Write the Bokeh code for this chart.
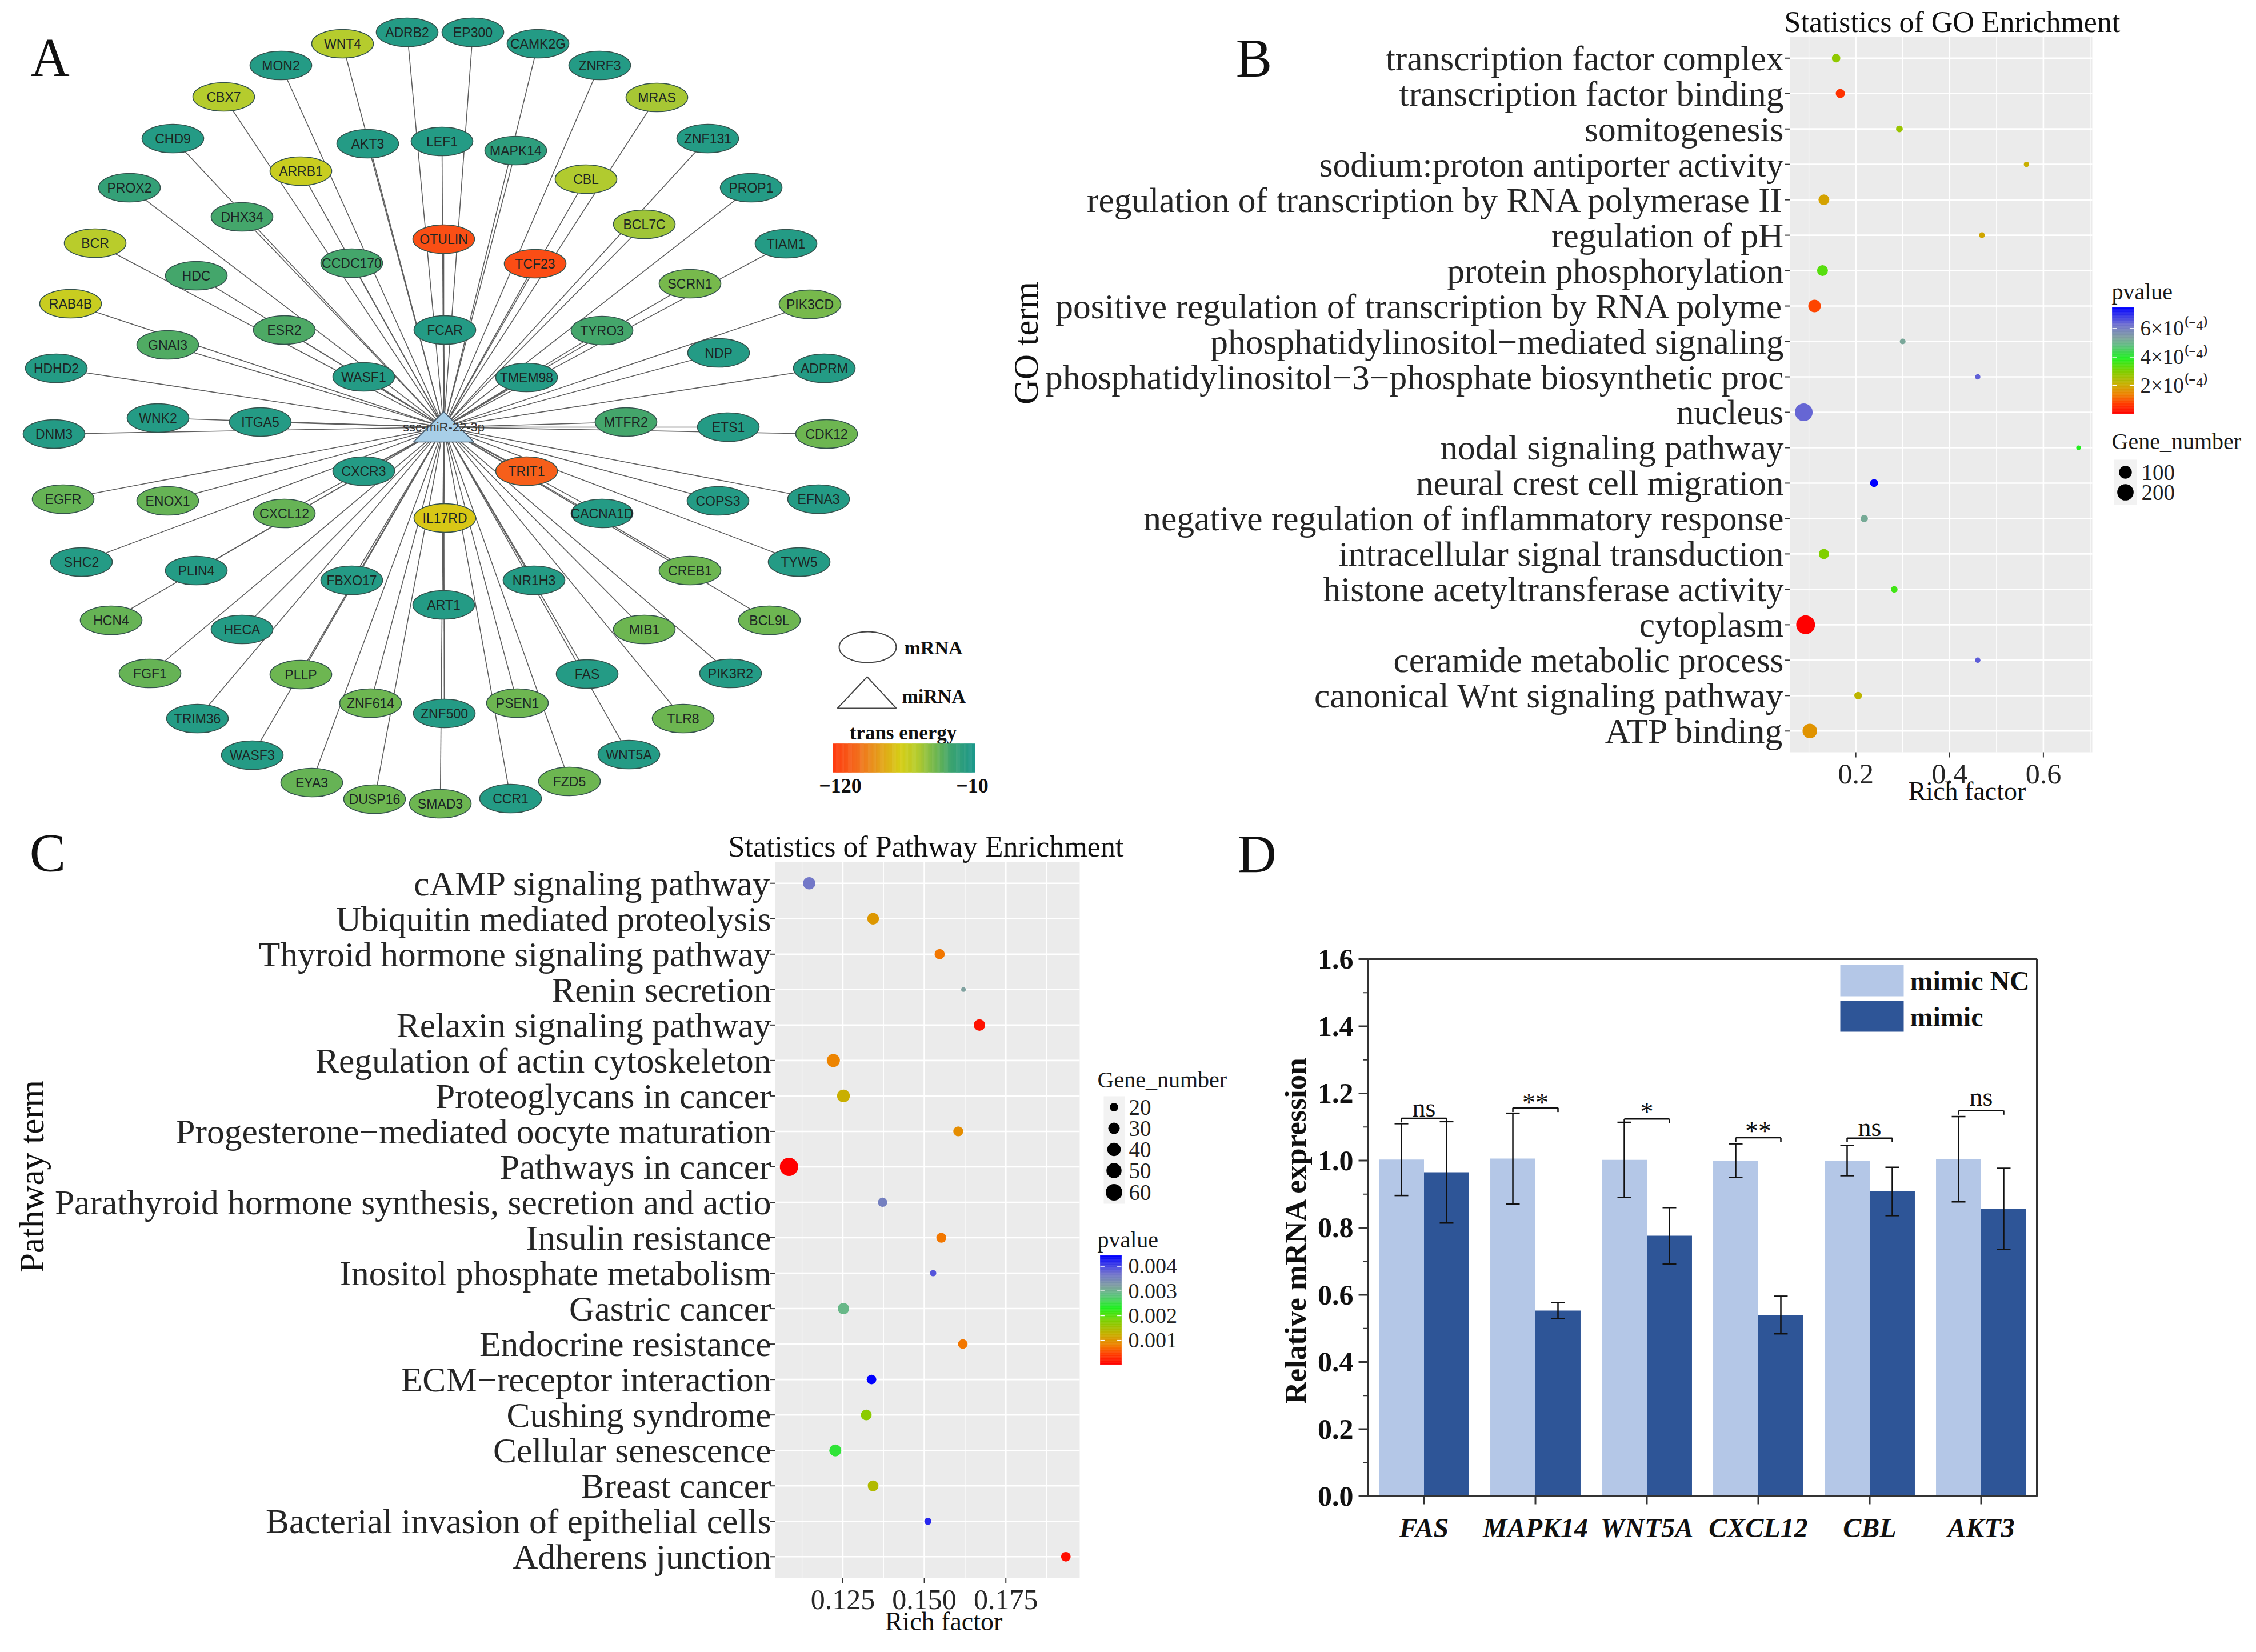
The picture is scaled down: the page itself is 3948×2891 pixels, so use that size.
import numpy as np
from bokeh.plotting import figure
from bokeh.models import ColumnDataSource, Range1d, LinearColorMapper, Whisker, TeeHead
from bokeh.layouts import row, column
from bokeh.transform import linear_cmap, dodge
from bokeh.core.properties import value
from bokeh.embed import file_html
from bokeh.resources import INLINE

SERIF = "Liberation Serif"
SANS = "Liberation Sans"

# ---------------------------------------------------------------- data: A (network)
gene_names = ["WNT4", "ADRB2", "EP300", "MON2", "CBX7", "CHD9", "AKT3", "LEF1", "ARRB1", "PROX2",
              "DHX34", "BCR", "OTULIN", "CCDC170", "HDC", "RAB4B", "FCAR", "ESR2", "GNAI3", "HDHD2",
              "WASF1", "CAMK2G", "ZNRF3", "MRAS", "ZNF131", "MAPK14", "CBL", "PROP1", "BCL7C", "TIAM1",
              "TCF23", "SCRN1", "PIK3CD", "TYRO3", "NDP", "TMEM98", "ADPRM", "WNK2", "ITGA5", "DNM3",
              "CXCR3", "EGFR", "ENOX1", "CXCL12", "IL17RD", "SHC2", "PLIN4", "FBXO17", "ART1", "HCN4",
              "HECA", "FGF1", "PLLP", "ZNF614", "ZNF500", "TRIM36", "WASF3", "EYA3", "DUSP16", "SMAD3",
              "MTFR2", "ETS1", "CDK12", "TRIT1", "COPS3", "EFNA3", "CACNA1D", "TYW5", "CREB1", "NR1H3",
              "BCL9L", "MIB1", "FAS", "PIK3R2", "PSEN1", "TLR8", "WNT5A", "FZD5", "CCR1"]
gene_x = [607, 720, 835, 499, 399, 310, 651, 781, 534, 234,
          431, 174, 784, 623, 351, 131, 786, 505, 301, 106,
          644, 949, 1057, 1157, 1246, 910, 1033, 1322, 1135, 1383,
          944, 1215, 1425, 1061, 1265, 929, 1450, 284, 463, 102,
          644, 118, 301, 505, 786, 150, 351, 623, 784, 202,
          431, 270, 534, 656, 785, 353, 449, 553, 663, 778,
          1103, 1282, 1454, 929, 1264, 1440, 1061, 1406, 1215, 942,
          1354, 1135, 1035, 1286, 913, 1203, 1108, 1004, 901]
gene_y = [84, 64, 64, 122, 177, 250, 259, 255, 307, 336,
          387, 433, 426, 468, 490, 539, 585, 585, 611, 652,
          667, 84, 122, 178, 250, 271, 321, 336, 400, 434,
          469, 504, 540, 586, 625, 668, 652, 739, 746, 767,
          832, 881, 884, 906, 914, 991, 1006, 1023, 1066, 1093,
          1109, 1186, 1188, 1238, 1256, 1265, 1329, 1377, 1406, 1414,
          746, 755, 767, 832, 884, 881, 906, 991, 1006, 1023,
          1093, 1109, 1187, 1186, 1238, 1265, 1328, 1375, 1405]
gene_energy = [-55, -15, -15, -15, -55, -15, -15, -15, -62, -24,
               -30, -56, -112, -30, -30, -62, -15, -32, -33, -15,
               -15, -15, -15, -52, -15, -20, -54, -15, -50, -15,
               -113, -42, -42, -30, -15, -15, -15, -15, -15, -15,
               -15, -38, -38, -38, -70, -15, -15, -15, -15, -38,
               -15, -38, -40, -40, -15, -15, -15, -38, -40, -40,
               -30, -15, -40, -106, -15, -15, -15, -15, -40, -15,
               -40, -40, -15, -15, -40, -40, -15, -40, -15]
mirna_names = ["ssc-miR-22-3p"]
mirna_x = [784]
mirna_y = [755]
energy_low, energy_high = -120, -10

# ---------------------------------------------------------------- data: B (GO)
go_terms = ["transcription factor complex", "transcription factor binding", "somitogenesis",
            "sodium:proton antiporter activity", "regulation of transcription by RNA polymerase II",
            "regulation of pH", "protein phosphorylation",
            "positive regulation of transcription by RNA polyme",
            "phosphatidylinositol\u2212mediated signaling",
            "phosphatidylinositol\u22123\u2212phosphate biosynthetic proc", "nucleus",
            "nodal signaling pathway", "neural crest cell migration",
            "negative regulation of inflammatory response", "intracellular signal transduction",
            "histone acetyltransferase activity", "cytoplasm", "ceramide metabolic process",
            "canonical Wnt signaling pathway", "ATP binding"]
go_rich = [0.158, 0.167, 0.293, 0.564, 0.132, 0.469, 0.129, 0.112, 0.300, 0.460,
           0.089, 0.675, 0.239, 0.218, 0.132, 0.282, 0.093, 0.460, 0.205, 0.102]
go_pvalue = [2.8e-4, 0.6e-4, 2.7e-4, 2.1e-4, 1.9e-4, 1.95e-4, 3.4e-4, 0.8e-4, 5.25e-4, 6.45e-4,
             6.4e-4, 3.9e-4, 7.5e-4, 5.2e-4, 3.0e-4, 3.6e-4, 0.01e-4, 6.5e-4, 2.25e-4, 1.65e-4]
go_gene_number = [27, 34, 12, 6, 60, 7, 60, 94, 7, 6,
                  246, 5, 21, 16, 51, 11, 290, 6, 18, 145]
go_x_ticks = [0.2, 0.4, 0.6]
go_x_minor = [0.1, 0.3, 0.5, 0.7]
go_size_breaks = [100, 200]
go_p_breaks = [2e-4, 4e-4, 6e-4]
go_p_labels = ["2\u00d710\u207d\u207b\u2074\u207e", "4\u00d710\u207d\u207b\u2074\u207e",
               "6\u00d710\u207d\u207b\u2074\u207e"]

# ---------------------------------------------------------------- data: C (pathways)
path_terms = ["cAMP signaling pathway", "Ubiquitin mediated proteolysis",
              "Thyroid hormone signaling pathway", "Renin secretion", "Relaxin signaling pathway",
              "Regulation of actin cytoskeleton", "Proteoglycans in cancer",
              "Progesterone\u2212mediated oocyte maturation", "Pathways in cancer",
              "Parathyroid hormone synthesis, secretion and actio", "Insulin resistance",
              "Inositol phosphate metabolism", "Gastric cancer", "Endocrine resistance",
              "ECM\u2212receptor interaction", "Cushing syndrome", "Cellular senescence",
              "Breast cancer", "Bacterial invasion of epithelial cells", "Adherens junction"]
path_rich = [0.1147, 0.1343, 0.1547, 0.1620, 0.1669, 0.1221, 0.1252, 0.1604, 0.1085, 0.1372,
             0.1552, 0.1527, 0.1252, 0.1618, 0.1338, 0.1322, 0.1227, 0.1343, 0.1511, 0.1934]
path_pvalue = [0.00365, 0.00103, 0.00076, 0.0032, 0.00014, 0.00085, 0.00125, 0.00094, 0.00001,
               0.00356, 0.00076, 0.0039, 0.00294, 0.00076, 0.00445, 0.0017, 0.00245, 0.00143,
               0.00418, 0.0001]
path_gene_number = [34, 31, 25, 15, 30, 38, 36, 24, 74, 22,
                    24, 16, 30, 23, 23, 27, 32, 27, 17, 23]
path_x_ticks = [0.125, 0.150, 0.175]
path_x_minor = [0.1125, 0.1375, 0.1625, 0.1875]
path_size_breaks = [20, 30, 40, 50, 60]
path_p_breaks = [0.001, 0.002, 0.003, 0.004]
path_p_labels = ["0.001", "0.002", "0.003", "0.004"]

# ---------------------------------------------------------------- data: D (qPCR)
genes = ["FAS", "MAPK14", "WNT5A", "CXCL12", "CBL", "AKT3"]
nc_mean = [1.003, 1.006, 1.002, 1.000, 1.000, 1.004]
nc_err = [0.107, 0.135, 0.112, 0.050, 0.045, 0.127]
mimic_mean = [0.965, 0.553, 0.776, 0.540, 0.908, 0.856]
mimic_err = [0.151, 0.024, 0.084, 0.056, 0.072, 0.121]
sig_labels = ["ns", "**", "*", "**", "ns", "ns"]
sig_bracket_y = [1.126, 1.157, 1.124, 1.068, 1.067, 1.149]
sig_text_y = [1.157, 1.172, 1.145, 1.087, 1.099, 1.189]
series_names = ["mimic NC", "mimic"]
series_colors = ["#B4C7E7", "#2E5597"]
d_y_ticks = [0.0, 0.2, 0.4, 0.6, 0.8, 1.0, 1.2, 1.4, 1.6]
d_y_minor = [0.1, 0.3, 0.5, 0.7, 0.9, 1.1, 1.3, 1.5]

# page rows: top row y 8..ROW_SPLIT, bottom row ROW_SPLIT..2883 (reference pixels)
ROW_SPLIT = 1444


# ---------------------------------------------------------------- helpers
def mk_palette(stops, n=256):
    f = [s[0] for s in stops]
    out = []
    for t in np.linspace(0, 1, n):
        c = [int(round(np.interp(t, f, [s[1][k] for s in stops]))) for k in range(3)]
        out.append("#%02x%02x%02x" % tuple(c))
    return out


def lin(p0, p1, v0, v1):
    """map a position on the page (px) to data units of a panel"""
    k = (v1 - v0) / (p1 - p0)

    def f(P):
        r = v0 + (np.asarray(P, dtype=float) - p0) * k
        return float(r) if np.ndim(r) == 0 else r.tolist()
    return f


def dot_diameter(n, nmin, nmax, dmin, dmax):
    n = np.asarray(n, dtype=float)
    return dmin + (dmax - dmin) * np.sqrt((n - nmin) / (nmax - nmin))


def txt(p, x, y, text, size, align="center", baseline="middle", style="normal",
        color="#111111", angle=0.0, font=SERIF):
    p.text(x=x if isinstance(x, list) else [x], y=y if isinstance(y, list) else [y],
           text=text if isinstance(text, list) else [text], text_font=value(font),
           text_font_size=size, text_font_style=style, text_align=align,
           text_baseline=baseline, text_color=color, angle=angle)


def canvas(width, height, xr, yr):
    p = figure(width=width, height=height, x_range=Range1d(*xr), y_range=Range1d(*yr),
               x_axis_location=None, y_axis_location=None, min_border=0,
               output_backend="svg", toolbar_location=None, title=None)
    p.grid.visible = False
    p.outline_line_color = None
    p.background_fill_color = "white"
    p.border_fill_color = "white"
    return p


enr_palette = mk_palette([(0.00, (255, 0, 0)), (0.10, (255, 64, 0)), (0.18, (240, 128, 0)),
                          (0.28, (200, 176, 0)), (0.40, (128, 208, 0)), (0.52, (32, 240, 32)),
                          (0.64, (96, 192, 128)), (0.72, (128, 160, 160)), (0.84, (112, 112, 208)),
                          (1.00, (0, 0, 255))])
energy_palette = mk_palette([(0.0, (255, 58, 16)), (0.182, (242, 112, 30)), (0.473, (214, 205, 22)),
                             (0.591, (182, 204, 45)), (0.727, (110, 182, 80)),
                             (0.836, (60, 163, 112)), (1.0, (28, 152, 140))])

# ================================================================= Panel A
pA = canvas(1742, ROW_SPLIT - 8, (8, 1750), (ROW_SPLIT, 8))
energy_mapper = LinearColorMapper(palette=energy_palette, low=energy_low, high=energy_high)
srcA = ColumnDataSource(dict(name=gene_names, x=gene_x, y=gene_y, energy=gene_energy))
ng = len(gene_names)
pA.segment(x0=gene_x, y0=gene_y, x1=[mirna_x[0]] * ng, y1=[mirna_y[0]] * ng,
           line_color="#5e5e5e", line_width=1.6)
pA.ellipse(x="x", y="y", width=108, height=50, source=srcA,
           fill_color={"field": "energy", "transform": energy_mapper},
           line_color="#35524d", line_width=1.6)
pA.text(x="x", y="y", text="name", source=srcA, text_font=value(SANS), text_font_size="23px",
        text_align="center", text_baseline="middle", text_color="#1c2624")
cx, cy = mirna_x[0], mirna_y[0]
pA.patch(x=[cx - 53, cx + 53, cx], y=[cy + 26, cy + 26, cy - 27], fill_color="#a8cfe8",
         line_color="#44586a", line_width=1.6)
pA.text(x=mirna_x, y=mirna_y, text=mirna_names, text_font=value(SANS), text_font_size="22px",
        text_align="center", text_baseline="middle", text_color="#333333")
pA.ellipse(x=[1526], y=[1140], width=100, height=54, fill_color=None, line_color="#444444",
           line_width=2)
txt(pA, 1590, 1141, "mRNA", "34px", align="left", style="bold")
pA.patch(x=[1473, 1576, 1525], y=[1247, 1247, 1192], fill_color=None, line_color="#444444",
         line_width=2)
txt(pA, 1586, 1226, "miRNA", "34px", align="left", style="bold")
txt(pA, 1588, 1290, "trans energy", "35px", style="bold")
nb = 120
e_edges = np.linspace(energy_low, energy_high, nb + 1)
bx0, bw = 1465, 249
srcBar = ColumnDataSource(dict(
    v=(e_edges[:-1] + e_edges[1:]) / 2,
    left=bx0 + (e_edges[:-1] - energy_low) / (energy_high - energy_low) * bw,
    right=bx0 + (e_edges[1:] - energy_low) / (energy_high - energy_low) * bw))
ecm = {"field": "v", "transform": energy_mapper}
pA.quad(left="left", right="right", top=1309, bottom=1359, fill_color=ecm, line_color=ecm,
        line_width=0.6, source=srcBar)
txt(pA, [1478, 1709], [1382, 1382], ["\u2212" + str(-energy_low), "\u2212" + str(-energy_high)],
    "36px", style="bold")
txt(pA, 95, 108, "A", "95px")


# ================================================================= dot-plot builder (B, C)
def dot_panel(p, X, Y, terms, rich, pvals, genes_n, lo, hi, ticks, minor, tick_fmt,
              panel_px, label_px, tick_label_y, d0, d1):
    n = len(terms)
    pos = [n - i for i in range(n)]
    top, bot = n + 0.6, 0.4
    p.quad(left=lo, right=hi, bottom=bot, top=top, fill_color="#EBEBEB", line_color=None)
    p.segment(x0=[lo] * n, x1=[hi] * n, y0=pos, y1=pos, line_color="white", line_width=2.6)
    p.segment(x0=minor, x1=minor, y0=[bot] * len(minor), y1=[top] * len(minor),
              line_color="white", line_width=1.3)
    p.segment(x0=ticks, x1=ticks, y0=[bot] * len(ticks), y1=[top] * len(ticks),
              line_color="white", line_width=2.6)
    nmin, nmax = min(genes_n), max(genes_n)
    src = ColumnDataSource(dict(term=terms, pos=pos, rich=rich, pvalue=pvals,
                                size=dot_diameter(genes_n, nmin, nmax, d0, d1)))
    p.scatter(x="rich", y="pos", size="size", source=src, line_color=None,
              fill_color=linear_cmap("pvalue", enr_palette, min(pvals), max(pvals)))
    left_px = panel_px[0]
    p.segment(x0=[lo] * n, x1=[X(left_px - 9)] * n, y0=pos, y1=pos, line_color="#333333",
              line_width=2)
    txt(p, [X(label_px)] * n, pos, terms, "61.5px", align="right", color="#262626")
    bottom_px = panel_px[3]
    p.segment(x0=ticks, x1=ticks, y0=[bot] * len(ticks), y1=[Y(bottom_px + 9)] * len(ticks),
              line_color="#333333", line_width=2)
    txt(p, ticks, [Y(tick_label_y)] * len(ticks), [tick_fmt % t for t in ticks], "50px",
        color="#262626")
    return nmin, nmax


def gradient_legend(p, X, Y, low, high, x0, x1, ytop, ybot, ticks, labels, label_x, size):
    nseg = 150
    edges = np.linspace(low, high, nseg + 1)
    yb, yt = Y(ybot), Y(ytop)
    src = ColumnDataSource(dict(
        v=(edges[:-1] + edges[1:]) / 2,
        bottom=yb + (edges[:-1] - low) / (high - low) * (yt - yb),
        top=yb + (edges[1:] - low) / (high - low) * (yt - yb)))
    cm = linear_cmap("v", enr_palette, low, high)
    p.quad(left=X(x0), right=X(x1), top="top", bottom="bottom", fill_color=cm, line_color=cm,
           line_width=0.6, source=src)
    ty = [yb + (t - low) / (high - low) * (yt - yb) for t in ticks]
    k = len(ty)
    w = (x1 - x0) / 5.0
    p.segment(x0=[X(x0)] * k, x1=[X(x0 + w)] * k, y0=ty, y1=ty, line_color="white", line_width=1.6)
    p.segment(x0=[X(x1 - w)] * k, x1=[X(x1)] * k, y0=ty, y1=ty, line_color="white", line_width=1.6)
    txt(p, [X(label_x)] * k, ty, labels, size, align="left", color="#222222")


def expand(vals):
    a, b = min(vals), max(vals)
    return a - 0.05 * (b - a), b + 0.05 * (b - a)


# ================================================================= Panel B
lo, hi = expand(go_rich)
nB = len(go_terms)
bX = lin(3140, 3669, lo, hi)
bY = lin(72, 1324, nB + 0.6, 0.4)
pB = canvas(2190, ROW_SPLIT - 8, (bX(1750), bX(3940)), (bY(ROW_SPLIT), bY(8)))
go_nmin, go_nmax = dot_panel(pB, bX, bY, go_terms, go_rich, go_pvalue, go_gene_number, lo, hi,
                             go_x_ticks, go_x_minor, "%g", (3140, 72, 3669, 1324), 3129, 1362, 8, 33)
txt(pB, bX(3424), bY(46), "Statistics of GO Enrichment", "52px")
txt(pB, bX(3450), bY(1392), "Rich factor", "46px")
txt(pB, bX(1803), bY(608), "GO term", "61px", angle=np.pi / 2)
txt(pB, bX(2202), bY(109), "B", "95px")
txt(pB, bX(3703), bY(518), "pvalue", "40px", align="left", color="#1a1a1a")
gradient_legend(pB, bX, bY, min(go_pvalue), max(go_pvalue), 3704, 3742, 545, 732,
                go_p_breaks, go_p_labels, 3753, "37px")
txt(pB, bX(3703), bY(780), "Gene_number", "40px", align="left", color="#1a1a1a")
pB.quad(left=bX(3707), right=bX(3747), top=bY(812), bottom=bY(891), fill_color="#F2F2F2",
        line_color=None)
leg_by = [834, 869]
pB.scatter(x=[bX(3727)] * len(go_size_breaks), y=bY(leg_by),
           size=dot_diameter(go_size_breaks, go_nmin, go_nmax, 8, 33), fill_color="black",
           line_color=None)
txt(pB, [bX(3755)] * len(go_size_breaks), bY(leg_by), [str(v) for v in go_size_breaks], "39px",
    align="left", color="#222222")

# ================================================================= Panel C
lo, hi = expand(path_rich)
nC = len(path_terms)
cX = lin(1364, 1897, lo, hi)
cY = lin(1516, 2769, nC + 0.6, 0.4)
pC = canvas(2157, 2883 - ROW_SPLIT, (cX(8), cX(2165)), (cY(2883), cY(ROW_SPLIT)))
p_nmin, p_nmax = dot_panel(pC, cX, cY, path_terms, path_rich, path_pvalue, path_gene_number, lo,
                           hi, path_x_ticks, path_x_minor, "%.3f", (1364, 1516, 1897, 2769), 1357,
                           2807, 8, 32)
txt(pC, cX(1628), cY(1489), "Statistics of Pathway Enrichment", "52px")
txt(pC, cX(1659), cY(2845), "Rich factor", "46px")
txt(pC, cX(63), cY(2066), "Pathway term", "61px", angle=np.pi / 2)
txt(pC, cX(91), cY(1500), "C", "95px")
txt(pC, cX(1928), cY(1897), "Gene_number", "40px", align="left", color="#1a1a1a")
pC.quad(left=cX(1939), right=cX(1976), top=cY(1926), bottom=cY(2114), fill_color="#F2F2F2",
        line_color=None)
leg_cy = [1945, 1982, 2019, 2056, 2094]
pC.scatter(x=[cX(1957)] * len(path_size_breaks), y=cY(leg_cy),
           size=dot_diameter(path_size_breaks, p_nmin, p_nmax, 8, 32), fill_color="black",
           line_color=None)
txt(pC, [cX(1983)] * len(path_size_breaks), cY(leg_cy), [str(v) for v in path_size_breaks],
    "39px", align="left", color="#222222")
txt(pC, cX(1928), cY(2177), "pvalue", "40px", align="left", color="#1a1a1a")
gradient_legend(pC, cX, cY, min(path_pvalue), max(path_pvalue), 1933, 1970, 2204, 2396,
                path_p_breaks, path_p_labels, 1982, "38px")

# ================================================================= Panel D
ngD = len(genes)
dX = lin(2402, 3572, 0.0, float(ngD))
dY = lin(2626, 1686, 0.0, 1.6)
pD = canvas(1775, 2883 - ROW_SPLIT, (dX(2165), dX(3940)), (dY(2883), dY(ROW_SPLIT)))
half = 0.2025
centers = (np.arange(ngD) + 0.5).tolist()
srcD = ColumnDataSource(dict(
    center=centers, gene=genes, nc=nc_mean, mimic=mimic_mean,
    nc_lo=[m - e for m, e in zip(nc_mean, nc_err)], nc_hi=[m + e for m, e in zip(nc_mean, nc_err)],
    mi_lo=[m - e for m, e in zip(mimic_mean, mimic_err)],
    mi_hi=[m + e for m, e in zip(mimic_mean, mimic_err)],
    sig=sig_labels, sig_y=sig_bracket_y, sig_tick=[v - 0.0125 for v in sig_bracket_y],
    sig_text_y=sig_text_y))
left_pos = dodge("center", -half)
right_pos = dodge("center", half)
pD.vbar(x=left_pos, top="nc", bottom=0, width=2 * half, source=srcD,
        fill_color=series_colors[0], line_color=None)
pD.vbar(x=right_pos, top="mimic", bottom=0, width=2 * half, source=srcD,
        fill_color=series_colors[1], line_color=None)
for base, lo_f, hi_f in ((left_pos, "nc_lo", "nc_hi"), (right_pos, "mi_lo", "mi_hi")):
    w = Whisker(source=srcD, base=base, lower=lo_f, upper=hi_f, line_color="#111111",
                line_width=2.5,
                upper_head=TeeHead(size=24, line_color="#111111", line_width=2.5),
                lower_head=TeeHead(size=24, line_color="#111111", line_width=2.5))
    w.level = "overlay"
    pD.add_layout(w)
pD.segment(x0=left_pos, x1=right_pos, y0="sig_y", y1="sig_y", source=srcD, line_color="#111111",
           line_width=2.5)
pD.segment(x0=left_pos, x1=left_pos, y0="sig_y", y1="sig_tick", source=srcD,
           line_color="#111111", line_width=2.5)
pD.segment(x0=right_pos, x1=right_pos, y0="sig_y", y1="sig_tick", source=srcD,
           line_color="#111111", line_width=2.5)
pD.text(x="center", y="sig_text_y", text="sig", source=srcD, text_font=value(SERIF),
        text_font_size="46px", text_align="center", text_baseline="middle",
        text_color="#111111")
pD.quad(left=0, right=ngD, bottom=0, top=1.6, fill_color=None, line_color="#333333",
        line_width=3)
pD.segment(x0=[0] * len(d_y_ticks), x1=[dX(2385)] * len(d_y_ticks), y0=d_y_ticks, y1=d_y_ticks,
           line_color="#333333", line_width=3)
pD.segment(x0=[0] * len(d_y_minor), x1=[dX(2393)] * len(d_y_minor), y0=d_y_minor, y1=d_y_minor,
           line_color="#333333", line_width=2)
txt(pD, [dX(2376)] * len(d_y_ticks), d_y_ticks, ["%.1f" % t for t in d_y_ticks], "50px",
    align="right", style="bold")
pD.segment(x0=centers, x1=centers, y0=[0] * ngD, y1=[dY(2640)] * ngD, line_color="#333333",
           line_width=3)
txt(pD, centers, [dY(2681)] * ngD, genes, "48px", style="bold italic")
txt(pD, dX(2274), dY(2160), "Relative mRNA expression", "53px", style="bold", angle=np.pi / 2)
txt(pD, dX(2207), dY(1502), "D", "95px")
pD.quad(left=[dX(3228)] * 2, right=[dX(3339)] * 2, top=dY([1696, 1759]),
        bottom=dY([1751, 1813]), fill_color=series_colors, line_color=None)
txt(pD, [dX(3350)] * 2, dY([1724, 1787]), series_names, "48px", align="left", style="bold")

layout = column(row(pA, pB), row(pC, pD))
open("out.html", "w").write(file_html(layout, INLINE, title="figure"))
